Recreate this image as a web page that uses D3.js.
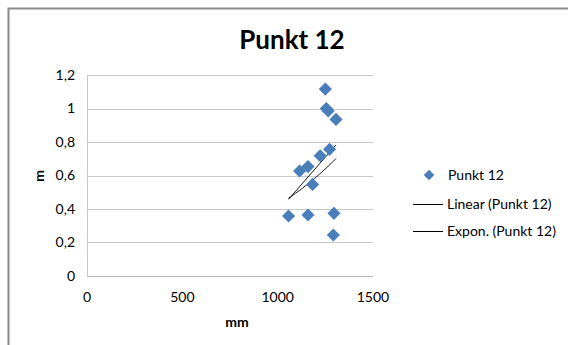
<!DOCTYPE html>
<html>
<head>
<meta charset="utf-8">
<script src="https://cdn.jsdelivr.net/npm/d3@7"></script>
<style>
  html, body { margin: 0; padding: 0; background: #fff; }
  svg { display: block; }
  text { font-family: Lato, "Open Sans", "Liberation Sans", sans-serif; fill: #000; }
</style>
</head>
<body>
<svg id="chart" width="568" height="345"></svg>
<script>
// Measurements: x in mm, y in m
const xValues = [1250, 1255, 1265, 1306, 1272, 1223, 1159, 1115, 1183, 1057, 1159, 1295, 1292];
const yValues = [1.116, 1.0, 0.985, 0.935, 0.756, 0.718, 0.653, 0.627, 0.547, 0.358, 0.364, 0.374, 0.245];
const xTicks = [0, 500, 1000, 1500];
const yTicks = [0, 0.2, 0.4, 0.6, 0.8, 1, 1.2];
const seriesName = "Punkt 12";
const legendLabels = ["Punkt 12", "Linear (Punkt 12)", "Expon. (Punkt 12)"];

const svg = d3.select("#chart");
const fmt = v => String(v).replace(".", ",");
const fs = 14;

// Chart frame (left and top edges visible)
svg.append("path")
  .attr("d", "M8.5,345 L8.5,8.5 L568,8.5")
  .attr("fill", "none").attr("stroke", "#8c8c8c").attr("stroke-width", 2);

const plot = { left: 87, right: 373, top: 75, bottom: 276 };
const x = d3.scaleLinear().domain([0, 1500]).range([plot.left, plot.right]);
const y = d3.scaleLinear().domain([0, 1.2]).range([plot.bottom, plot.top]);

// Horizontal gridlines
svg.append("g").selectAll("line").data(yTicks).join("line")
  .attr("x1", plot.left).attr("x2", plot.right)
  .attr("y1", d => Math.round(y(d)) + 0.5).attr("y2", d => Math.round(y(d)) + 0.5)
  .attr("stroke", d => d === 0 ? "#b8b8b8" : "#c8c8c8").attr("stroke-width", 1);

// Vertical axis line
svg.append("line")
  .attr("x1", plot.left + 0.5).attr("x2", plot.left + 0.5)
  .attr("y1", plot.top).attr("y2", plot.bottom)
  .attr("stroke", "#c8c8c8");

// Y tick labels
svg.append("g").selectAll("text").data(yTicks).join("text")
  .attr("x", 75).attr("y", d => y(d))
  .attr("dy", "0.35em").attr("text-anchor", "end")
  .attr("font-size", fs).text(fmt);

// X tick labels
svg.append("g").selectAll("text").data(xTicks).join("text")
  .attr("x", d => x(d)).attr("y", 297)
  .attr("dy", "0.35em").attr("text-anchor", "middle")
  .attr("font-size", fs).text(d => d);

// Axis titles
svg.append("text").attr("x", 237).attr("y", 322).attr("dy", "0.35em")
  .attr("text-anchor", "middle").attr("font-size", fs).attr("font-weight", "bold").text("mm");
svg.append("text").attr("transform", "translate(39,176) rotate(-90)").attr("dy", "0.35em")
  .attr("text-anchor", "middle").attr("font-size", fs).attr("font-weight", "bold").text("m");

// Chart title
svg.append("text").attr("x", 292).attr("y", 40).attr("dy", "0.35em")
  .attr("text-anchor", "middle").attr("font-size", 26).attr("font-weight", "bold").text(seriesName);

// Trendlines: least squares on y (linear) and on ln y (exponential)
const pts = xValues.map((v, i) => [v, yValues[i]]);
const mx = d3.mean(xValues);
function fit(ys) {
  const my = d3.mean(ys);
  let sxy = 0, sxx = 0;
  xValues.forEach((v, i) => { sxy += (v - mx) * (ys[i] - my); sxx += (v - mx) * (v - mx); });
  const b = sxy / sxx;
  return { b, a: my - b * mx };
}
const lin = fit(yValues);
const ex = fit(yValues.map(Math.log));
const [xMin, xMax] = d3.extent(xValues);
const trendX = d3.range(xMin, xMax + 1, (xMax - xMin) / 20);
const line = d3.line().x(d => x(d[0])).y(d => y(d[1]));

svg.append("path")
  .attr("d", line([[xMin, lin.a + lin.b * xMin], [xMax, lin.a + lin.b * xMax]]))
  .attr("fill", "none").attr("stroke", "#000").attr("stroke-width", 0.9);
svg.append("path")
  .attr("d", line(trendX.map(v => [v, Math.exp(ex.a + ex.b * v)])))
  .attr("fill", "none").attr("stroke", "#000").attr("stroke-width", 0.9);

// Data markers
const diamond = d3.symbol().type(d3.symbolDiamond2).size(110);
svg.append("g").selectAll("path").data(pts).join("path")
  .attr("transform", d => `translate(${x(d[0])},${y(d[1])})`)
  .attr("d", diamond).attr("fill", "#4a7ebb");

// Legend
const lg = svg.append("g");
lg.append("path").attr("transform", "translate(429,175)")
  .attr("d", d3.symbol().type(d3.symbolDiamond2).size(70)).attr("fill", "#4a7ebb");
lg.append("text").attr("x", 448).attr("y", 175).attr("dy", "0.35em").attr("font-size", fs).text(legendLabels[0]);
[204, 231].forEach((ly, i) => {
  lg.append("line").attr("x1", 413).attr("x2", 443).attr("y1", ly + 0.5).attr("y2", ly + 0.5)
    .attr("stroke", "#000").attr("stroke-width", 1);
  lg.append("text").attr("x", 447).attr("y", ly).attr("dy", "0.35em").attr("font-size", fs).text(legendLabels[i + 1]);
});
</script>
</body>
</html>
